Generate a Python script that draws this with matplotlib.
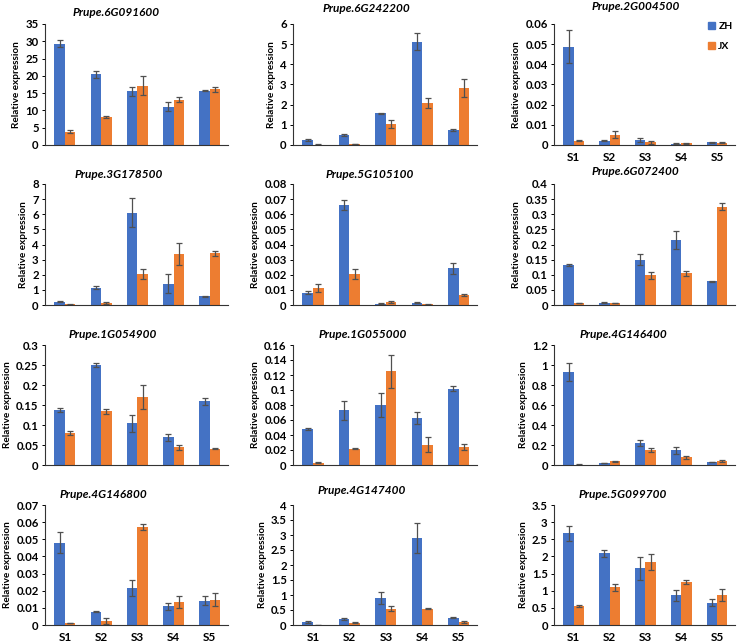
import matplotlib
matplotlib.use("Agg")
import matplotlib.pyplot as plt
from matplotlib.patches import Patch
from matplotlib.ticker import MultipleLocator, FuncFormatter
import numpy as np

###Data###
stages = ["S1", "S2", "S3", "S4", "S5"]
series = ["ZH", "JX"]

genes = ["Prupe.6G091600", "Prupe.6G242200", "Prupe.2G004500",
         "Prupe.3G178500", "Prupe.5G105100", "Prupe.6G072400",
         "Prupe.1G054900", "Prupe.1G055000", "Prupe.4G146400",
         "Prupe.4G146800", "Prupe.4G147400", "Prupe.5G099700"]

zh_mean = [
    [29.3, 20.4, 15.5, 11.1, 15.7],
    [0.25, 0.5, 1.58, 5.13, 0.75],
    [0.0488, 0.0022, 0.0024, 0.0006, 0.0014],
    [0.22, 1.15, 6.1, 1.42, 0.57],
    [0.0081, 0.0661, 0.0008, 0.0015, 0.0244],
    [0.131, 0.008, 0.149, 0.215, 0.078],
    [0.138, 0.25, 0.104, 0.069, 0.159],
    [0.048, 0.073, 0.080, 0.063, 0.102],
    [0.93, 0.02, 0.22, 0.15, 0.03],
    [0.048, 0.0078, 0.0217, 0.0108, 0.0142],
    [0.1, 0.2, 0.91, 2.9, 0.24],
    [2.68, 2.09, 1.65, 0.87, 0.65],
]
zh_err = [
    [1.0, 1.0, 1.3, 1.3, 0.2],
    [0.03, 0.03, 0.03, 0.42, 0.04],
    [0.0082, 0.0003, 0.0009, 0.0003, 0.0003],
    [0.04, 0.08, 0.97, 0.6, 0.04],
    [0.0009, 0.0034, 0.0002, 0.0003, 0.0036],
    [0.003, 0.002, 0.018, 0.03, 0.002],
    [0.005, 0.005, 0.021, 0.008, 0.008],
    [0.001, 0.013, 0.016, 0.008, 0.003],
    [0.09, 0.003, 0.03, 0.035, 0.004],
    [0.006, 0.0003, 0.0046, 0.0023, 0.0028],
    [0.04, 0.02, 0.2, 0.5, 0.02],
    [0.22, 0.1, 0.34, 0.16, 0.1],
]
jx_mean = [
    [3.9, 8.1, 17.2, 13.1, 16.1],
    [0.02, 0.04, 1.02, 2.08, 2.83],
    [0.0021, 0.0050, 0.0013, 0.0008, 0.0012],
    [0.04, 0.13, 2.05, 3.38, 3.42],
    [0.0112, 0.0203, 0.0021, 0.0004, 0.0066],
    [0.006, 0.006, 0.098, 0.105, 0.325],
    [0.079, 0.134, 0.170, 0.044, 0.041],
    [0.003, 0.022, 0.125, 0.027, 0.024],
    [0.005, 0.04, 0.15, 0.08, 0.04],
    [0.0011, 0.0024, 0.0571, 0.0136, 0.0148],
    [0.01, 0.08, 0.55, 0.55, 0.1],
    [0.55, 1.1, 1.83, 1.25, 0.88],
]
jx_err = [
    [0.5, 0.4, 2.8, 0.7, 0.7],
    [0.01, 0.01, 0.2, 0.23, 0.43],
    [0.0003, 0.0017, 0.0006, 0.0002, 0.0003],
    [0.01, 0.04, 0.3, 0.75, 0.18],
    [0.0026, 0.0032, 0.0006, 0.0001, 0.0004],
    [0.001, 0.001, 0.011, 0.008, 0.012],
    [0.005, 0.007, 0.031, 0.007, 0.001],
    [0.0005, 0.0005, 0.022, 0.01, 0.004],
    [0.002, 0.005, 0.02, 0.015, 0.01],
    [0.0002, 0.0017, 0.0018, 0.0036, 0.0036],
    [0.005, 0.01, 0.09, 0.02, 0.03],
    [0.02, 0.1, 0.23, 0.06, 0.18],
]
y_max = [35, 6, 0.06, 8, 0.08, 0.4, 0.3, 0.16, 1.2, 0.07, 4, 3.5]
y_step = [5, 1, 0.01, 1, 0.01, 0.05, 0.05, 0.02, 0.2, 0.01, 0.5, 0.5]

###Layout (pixels)###
W, H = 738, 644
col_lr = [(45, 228), (293, 477), (554, 735)]
row_tb = [(24, 145), (184, 305), (345, 465), (505, 625)]
title_xy = [(116, 12), (366, 9), (636, 7),
            (119, 175), (370, 175), (635, 172),
            (113, 335), (363, 335), (623, 335),
            (103, 495), (362, 491), (623, 495)]

BLUE = "#4472C4"
ORANGE = "#ED7D31"
ERR = "#505050"
plt.rcParams['font.family'] = ['Lato', 'DejaVu Sans']

fig = plt.figure(figsize=(W / 100, H / 100), dpi=100)
fmt = FuncFormatter(lambda v, p: f"{round(v, 6):g}")
x = np.arange(len(stages))
bw = 0.29

for i, gene in enumerate(genes):
    r, c = divmod(i, 3)
    l, rr = col_lr[c]
    t, b = row_tb[r]
    ax = fig.add_axes([l / W, 1 - b / H, (rr - l) / W, (b - t) / H])
    ekw = dict(ecolor=ERR, elinewidth=0.9, capsize=2, capthick=0.9)
    ax.bar(x - bw / 2, zh_mean[i], bw, yerr=zh_err[i], color=BLUE,
           error_kw=ekw, zorder=2)
    ax.bar(x + bw / 2, jx_mean[i], bw, yerr=jx_err[i], color=ORANGE,
           error_kw=ekw, zorder=2)
    ax.set_xlim(-0.55, 4.5)
    ax.set_ylim(0, y_max[i])
    ax.yaxis.set_major_locator(MultipleLocator(y_step[i]))
    ax.yaxis.set_major_formatter(fmt)
    for s in ["top", "right"]:
        ax.spines[s].set_visible(False)
    for s in ["left", "bottom"]:
        ax.spines[s].set_color("#333333")
        ax.spines[s].set_linewidth(0.8)
    ax.tick_params(axis="y", length=2.5, width=0.7, labelsize=8.2, pad=2)
    ax.tick_params(axis="x", length=0, labelsize=8.5, pad=5)
    for lab in ax.get_yticklabels():
        lab.set_fontweight("bold")
    ax.set_xticks(x)
    if r == 3 or i == 2:
        ax.set_xticklabels(stages, fontweight="bold")
    else:
        ax.set_xticklabels([])
    tx, ty = title_xy[i]
    fig.text(tx / W, 1 - ty / H, gene, ha="center", va="center",
             fontsize=8.5, fontweight="bold", fontstyle="italic")
    ax.set_ylabel("Relative expression", fontsize=7.2, fontweight="bold",
                  labelpad=3)

handles = [Patch(color=BLUE), Patch(color=ORANGE)]
fig.legend(handles, series, loc="upper left",
           bbox_to_anchor=(708 / W, 1 - 22 / H), frameon=False,
           borderpad=0, borderaxespad=0,
           handlelength=0.7, handleheight=0.7, handletextpad=0.3,
           labelspacing=1.0, prop=dict(size=7.5, weight="bold"))

fig.savefig("out.png", dpi=100)
